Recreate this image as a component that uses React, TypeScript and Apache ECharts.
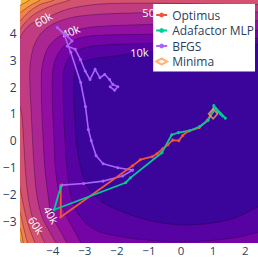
import React, { useEffect, useRef } from 'react';
import * as echarts from 'echarts';

// ---- axis ticks ----
const xTicks = [-4, -3, -2, -1, 0, 1, 2];
const yTicks = [-3, -2, -1, 0, 1, 2, 3, 4];

// ---- contour levels (value) and their traced curves (data coords) ----
const contourLevels = [10000, 20000, 30000, 40000, 50000, 60000, 70000, 80000, 90000, 100000];

const contour10k = [
  [3.6, -2.1], [2.4, -2.47], [2.0, -2.72], [1.5, -2.95], [0.8, -3.1], [0.0, -3.15], [-0.8, -3.03],
  [-1.5, -2.8], [-2.1, -2.52], [-2.6, -2.17], [-2.95, -1.65], [-3.15, -0.9], [-3.27, 0.0], [-3.32, 1.0],
  [-3.35, 2.0], [-3.31, 2.6], [-3.13, 2.9], [-2.7, 3.06], [-2.0, 3.17], [-1.39, 3.28], [-0.5, 3.35],
  [0.5, 3.42], [1.5, 3.5], [2.4, 3.6], [3.6, 3.6],
];
const contour20k = [
  [3.6, -3.0], [2.4, -3.42], [1.8, -3.6], [1.0, -3.72], [0.0, -3.78], [-1.0, -3.72], [-1.8, -3.6],
  [-2.55, -3.4], [-2.95, -3.1], [-3.25, -2.65], [-3.45, -2.0], [-3.56, -1.0], [-3.62, 0.0], [-3.66, 1.0],
  [-3.68, 2.0], [-3.66, 2.6], [-3.52, 3.05], [-3.25, 3.35], [-2.8, 3.52], [-2.0, 3.6], [-1.0, 3.63],
  [0.5, 3.7], [1.5, 3.76], [2.4, 3.82], [3.6, 3.85],
];
const contour30k = [
  [3.6, -4.4], [0.0, -4.6], [-2.9, -4.3], [-3.12, -3.82], [-3.38, -3.25], [-3.62, -2.7], [-3.8, -2.0],
  [-3.92, -1.0], [-3.96, 0.0], [-4.0, 1.0], [-4.02, 2.0], [-3.99, 2.7], [-3.86, 3.2], [-3.6, 3.58],
  [-3.2, 3.82], [-2.6, 3.93], [-1.0, 3.97], [0.5, 4.03], [1.5, 4.08], [2.4, 4.12], [3.6, 4.15],
];
const contour40k = [
  [3.6, -4.8], [0.0, -5.0], [-3.3, -4.3], [-3.56, -3.82], [-3.8, -3.3], [-4.05, -2.77], [-4.15, -2.0],
  [-4.25, -1.0], [-4.3, 0.0], [-4.34, 1.0], [-4.36, 2.0], [-4.33, 2.8], [-4.16, 3.45], [-3.85, 3.85],
  [-3.44, 4.08], [-2.7, 4.25], [-1.0, 4.34], [0.5, 4.4], [1.5, 4.44], [2.4, 4.48], [3.6, 4.5],
];
const contour50k = [
  [3.6, -5.0], [0.0, -5.2], [-3.7, -4.3], [-3.9, -3.82], [-4.12, -3.35], [-4.35, -2.8], [-4.5, -2.0],
  [-4.58, -1.0], [-4.63, 0.0], [-4.67, 1.0], [-4.71, 2.0], [-4.71, 2.8], [-4.6, 3.5], [-4.37, 4.0],
  [-4.0, 4.35], [-3.4, 4.6], [-2.5, 4.72], [-1.0, 4.78], [0.5, 4.8], [1.5, 4.8], [2.4, 4.8], [3.6, 4.8],
];
const contour60k = [
  [3.6, -5.2], [0.0, -5.4], [-4.05, -4.3], [-4.25, -3.82], [-4.51, -3.15], [-4.65, -2.8], [-4.78, -2.0],
  [-4.86, -1.0], [-4.91, 0.0], [-4.97, 1.0], [-5.1, 1.6], [-5.15, 2.5], [-5.1, 3.4], [-5.0, 3.9],
  [-4.69, 4.35], [-4.3, 4.53], [-3.53, 4.91], [-2.52, 5.1], [-1.0, 5.13], [0.0, 5.12], [1.0, 5.1],
  [2.4, 5.08], [3.6, 5.08],
];
const contour70k = [
  [3.6, -5.4], [0.0, -5.6], [-4.35, -4.3], [-4.55, -3.82], [-4.75, -3.2], [-4.88, -2.6], [-5.0, -1.9],
  [-5.15, -1.0], [-5.25, 0.5], [-5.25, 3.0], [-5.15, 3.8], [-5.0, 4.19], [-4.75, 4.55], [-4.48, 4.79],
  [-4.0, 5.05], [-3.47, 5.25], [-3.2, 5.45], [-2.0, 5.6], [0.0, 5.6], [3.6, 5.6],
];
const contour80k = [
  [3.6, -5.6], [0.0, -5.8], [-4.6, -4.3], [-4.78, -3.82], [-4.9, -3.3], [-5.0, -2.77], [-5.2, -2.0],
  [-5.4, 0.0], [-5.4, 3.5], [-5.2, 4.2], [-5.0, 4.49], [-4.75, 4.8], [-4.4, 5.08], [-3.96, 5.25],
  [-3.7, 5.5], [-2.0, 5.8], [3.6, 5.8],
];
const contour90k = [
  [3.6, -5.8], [0.0, -6.0], [-4.8, -4.3], [-4.92, -3.82], [-5.0, -3.35], [-5.2, -2.8], [-5.5, 0.0],
  [-5.5, 4.0], [-5.2, 4.6], [-5.0, 4.79], [-4.7, 5.05], [-4.39, 5.25], [-4.2, 5.5], [-2.0, 6.0], [3.6, 6.0],
];
const contour100k = [
  [3.6, -6.0], [0.0, -6.2], [-4.95, -4.3], [-4.99, -3.82], [-5.0, -3.75], [-5.3, -3.0], [-5.6, 0.0],
  [-5.6, 4.3], [-5.2, 4.9], [-5.0, 5.06], [-4.72, 5.25], [-4.5, 5.5], [-2.0, 6.2], [3.6, 6.2],
];
const contourCurves = [
  contour10k, contour20k, contour30k, contour40k, contour50k,
  contour60k, contour70k, contour80k, contour90k, contour100k,
];

// contour labels (value text + position on the line)
const labelTexts = ['60k', '40k', '10k', '50k', '40k', '60k'];
const labelX = [-4.3, -3.44, -1.3, -0.92, -4.05, -4.51];
const labelY = [4.53, 4.08, 3.3, 4.79, -2.77, -3.15];

// ---- optimizer trajectories ----
const optimusX = [-3.75, -3.75, -1.51, -1.27, -0.9, -0.75, -0.57, -0.41, -0.26, -0.07, 0.05, 0.2, 0.57, 0.81, 0.96];
const optimusY = [-1.68, -2.85, -0.94, -0.71, -0.6, -0.49, -0.3, -0.15, 0.02, 0.0, 0.19, 0.34, 0.49, 0.75, 1.03];

const adafactorX = [-3.75, -3.96, -1.73, -1.58, -0.6, -0.29, -0.08, 0.26, 0.57, 0.84, 0.99, 1.02, 1.38, 1.08, 1.3, 1.14, 1.24];
const adafactorY = [-1.72, -2.58, -1.57, -1.39, -0.45, 0.22, 0.3, 0.37, 0.52, 0.75, 1.08, 1.31, 0.84, 1.2, 0.92, 1.1, 0.99];

const bfgsX = [
  -3.72, -3.04, -2.43, -1.82, -1.51, -1.97, -2.43, -2.65, -2.8, -2.89, -2.98, -3.13, -3.44, -3.65, -3.86,
  -3.6, -3.4, -3.55, -3.3, -3.14, -2.99, -2.84, -2.68, -2.53, -2.38, -2.23, -2.13, -1.97, -2.07, -2.21,
];
const bfgsY = [
  -1.66, -1.6, -1.51, -1.32, -1.1, -1.01, -0.86, -0.56, 0.0, 0.41, 1.27, 2.17, 3.3, 3.97, 4.22,
  3.97, 3.72, 3.53, 3.41, 3.03, 2.6, 2.28, 2.66, 2.35, 2.47, 2.28, 2.1, 2.01, 1.88, 2.01,
];

const minimaX = [1.0];
const minimaY = [1.0];

// ---- styles ----
const bandColors = [
  '#3b049a', '#5702a3', '#7504a7', '#920fa2', '#ac2693', '#c23c81',
  '#d45270', '#e4695f', '#f1814d', '#f99c3c', '#fcb82d',
];
const labelAngles = [30, 22, 3, 0, -60, -56];
const FONT = "'Open Sans', 'DejaVu Sans', sans-serif";
const TICK = '#2a3f5f';

const zip = (xs: number[], ys: number[]) => xs.map((x, i) => [x, ys[i]]);
const fmt = (v: number) => (v < 0 ? '\u2212' + Math.abs(v) : String(v));

export default function App() {
  const ref = useRef<HTMLDivElement>(null);
  useEffect(() => {
    if (!ref.current) return;
    const chart = echarts.init(ref.current, undefined, { renderer: 'svg' });

    const contourOrder = [contourLevels.length, ...contourLevels.map((_, i) => contourLevels.length - 1 - i)];

    const option: any = {
      animation: false,
      backgroundColor: '#ffffff',
      grid: { left: 16, right: 0, top: 0, bottom: 15, containLabel: false },
      xAxis: {
        type: 'value', min: -5, max: 2.4, minInterval: 1, maxInterval: 1, splitNumber: 8,
        axisLine: { show: false }, axisTick: { show: false }, splitLine: { show: false },
        axisLabel: {
          margin: 1, color: TICK, fontFamily: FONT, fontSize: 11.5, lineHeight: 12,
          showMinLabel: false, showMaxLabel: false,
          formatter: (v: number) => (xTicks.includes(v) ? fmt(v) : ''),
        },
      },
      yAxis: {
        type: 'value', min: -3.82, max: 5.25, minInterval: 1, maxInterval: 1, splitNumber: 9,
        axisLine: { show: false }, axisTick: { show: false }, splitLine: { show: false },
        axisLabel: {
          margin: 4, color: TICK, fontFamily: FONT, fontSize: 12,
          showMinLabel: false, showMaxLabel: false,
          formatter: (v: number) => (yTicks.includes(v) ? fmt(v) : ''),
        },
      },
      legend: {
        data: ['Optimus', 'Adafactor MLP', 'BFGS', 'Minima'],
        orient: 'vertical', right: 3, top: 4, align: 'left',
        backgroundColor: '#ffffff',
        padding: [4, 1, 3, 2], itemGap: 1.5, itemWidth: 11, itemHeight: 6,
        textStyle: { fontFamily: FONT, fontSize: 12, color: TICK, lineHeight: 14 },
      },
      series: [
        {
          type: 'custom', name: 'contour', z: 0, clip: true, silent: true,
          data: contourOrder.map((i) => [i, 0]),
          renderItem: (params: any, api: any) => {
            const idx = api.value(0);
            const cs = params.coordSys;
            if (idx >= contourCurves.length) {
              return { type: 'rect', shape: { x: cs.x, y: cs.y, width: cs.width, height: cs.height }, style: { fill: bandColors[idx] } };
            }
            const pts = contourCurves[idx].map((p) => api.coord(p));
            return {
              type: 'polygon',
              shape: { points: pts, smooth: 0.3 },
              style: { fill: bandColors[idx], stroke: 'rgba(25,0,45,0.5)', lineWidth: 0.7 },
            };
          },
        },
        {
          type: 'custom', name: 'contourLabels', z: 1, clip: true, silent: true,
          data: labelTexts.map((_, i) => [labelX[i], labelY[i], i]),
          renderItem: (params: any, api: any) => {
            const i = api.value(2);
            const p = api.coord([api.value(0), api.value(1)]);
            return {
              type: 'text', x: p[0], y: p[1], rotation: (labelAngles[i] * Math.PI) / 180,
              style: { text: labelTexts[i], fill: '#ffffff', fontSize: 11, fontFamily: FONT, align: 'center', verticalAlign: 'middle' },
            };
          },
        },
        {
          type: 'line', name: 'Optimus', z: 3, data: zip(optimusX, optimusY),
          symbol: 'circle', symbolSize: 3, showSymbol: true,
          lineStyle: { color: '#EF553B', width: 1.8 }, itemStyle: { color: '#EF553B' },
        },
        {
          type: 'line', name: 'Adafactor MLP', z: 3, data: zip(adafactorX, adafactorY),
          symbol: 'circle', symbolSize: 3, showSymbol: true,
          lineStyle: { color: '#00CC96', width: 1.8 }, itemStyle: { color: '#00CC96' },
        },
        {
          type: 'line', name: 'BFGS', z: 2, data: zip(bfgsX, bfgsY),
          symbol: 'circle', symbolSize: 3, showSymbol: true,
          lineStyle: { color: '#AB63FA', width: 1.6 }, itemStyle: { color: '#AB63FA' },
        },
        {
          type: 'scatter', name: 'Minima', z: 4, data: zip(minimaX, minimaY),
          symbol: 'diamond', symbolSize: [9, 10],
          itemStyle: { color: 'rgba(0,0,0,0)', borderColor: '#FFA15A', borderWidth: 1.6 },
        },
      ],
    };
    chart.setOption(option);
    return () => chart.dispose();
  }, []);

  return <div ref={ref} style={{ position: 'fixed', left: 0, top: 0, width: 258, height: 258 }} />;
}
